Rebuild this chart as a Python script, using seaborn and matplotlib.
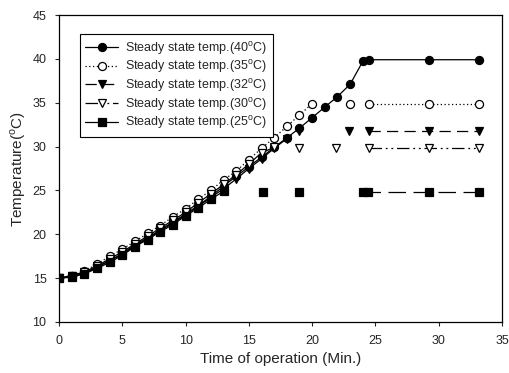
import matplotlib
matplotlib.use("Agg")
import matplotlib.pyplot as plt
from matplotlib.lines import Line2D
import seaborn as sns

# ---- data ----
# 40 C run (all points joined)
t40 = [0, 1, 2, 3, 4, 5, 6, 7, 8, 9, 10, 11, 12, 13, 14, 15, 16, 17, 18, 19, 20, 21, 22, 23, 24, 24.5, 29.2, 33.2]
T40 = [15.0, 15.2, 15.6, 16.3, 17.0, 17.8, 18.8, 19.6, 20.5, 21.4, 22.3, 23.3, 24.3, 25.5, 26.6, 27.7, 28.8, 29.9,
       31.0, 32.1, 33.3, 34.5, 35.7, 37.1, 39.7, 39.9, 39.9, 39.9]

# 35 C run
t35_ramp = [0, 1, 2, 3, 4, 5, 6, 7, 8, 9, 10, 11, 12, 13, 14, 15, 16, 17, 18, 19, 20]
T35_ramp = [15.0, 15.3, 15.8, 16.6, 17.5, 18.3, 19.2, 20.1, 21.0, 22.0, 22.9, 24.0, 25.0, 26.2, 27.2, 28.5,
            29.8, 31.0, 32.3, 33.6, 34.9]
t35_spot = [23.0]
T35_spot = [34.9]
t35_hold = [24.5, 29.2, 33.2]
T35_hold = [34.9, 34.9, 34.9]

# 32 C run
t32_ramp = [0, 1, 2, 3, 4, 5, 6, 7, 8, 9, 10, 11, 12, 13, 14, 15, 16, 17, 18]
T32_ramp = [15.0, 15.2, 15.6, 16.2, 17.0, 17.7, 18.7, 19.5, 20.4, 21.3, 22.2, 23.2, 24.2, 25.2, 26.3, 27.5,
            28.6, 29.8, 30.9]
t32_spot = [19.0, 22.9]
T32_spot = [31.8, 31.8]
t32_hold = [24.5, 29.2, 33.2]
T32_hold = [31.8, 31.8, 31.8]

# 30 C run
t30_ramp = [0, 1, 2, 3, 4, 5, 6, 7, 8, 9, 10, 11, 12, 13, 14, 15, 16, 17]
T30_ramp = [15.0, 15.3, 15.7, 16.4, 17.2, 18.0, 18.9, 19.8, 20.7, 21.6, 22.5, 23.6, 24.6, 25.7, 26.8, 28.0,
            29.3, 29.9]
t30_spot = [19.0, 21.9]
T30_spot = [29.8, 29.8]
t30_hold = [24.5, 29.2, 33.2]
T30_hold = [29.8, 29.8, 29.8]

# 25 C run
t25_ramp = [0, 1, 2, 3, 4, 5, 6, 7, 8, 9, 10, 11, 12, 13]
T25_ramp = [15.0, 15.1, 15.5, 16.1, 16.8, 17.6, 18.6, 19.4, 20.3, 21.1, 22.1, 23.0, 24.0, 24.9]
t25_spot = [16.1, 19.0]
T25_spot = [24.8, 24.8]
t25_hold = [24.0, 24.4, 29.2, 33.2]
T25_hold = [24.8, 24.8, 24.8, 24.8]

labels = ["Steady state temp.(40$^\\mathrm{o}$C)",
          "Steady state temp.(35$^\\mathrm{o}$C)",
          "Steady state temp.(32$^\\mathrm{o}$C)",
          "Steady state temp.(30$^\\mathrm{o}$C)",
          "Steady state temp.(25$^\\mathrm{o}$C)"]

sns.set_style("ticks")
plt.rcParams["font.family"] = ["Liberation Sans", "DejaVu Sans"]
plt.rcParams["mathtext.fontset"] = "custom"
plt.rcParams["mathtext.rm"] = "Liberation Sans"

fig = plt.figure(figsize=(5.1, 3.73), dpi=100)
ax = fig.add_axes([59 / 510, 1 - 322 / 373, 443 / 510, 307 / 373])

lw = 0.9
styles = {
    "40": dict(marker="o", ms=5.8, mfc="k", ls="-"),
    "35": dict(marker="o", ms=5.8, mfc="white", ls=(0, (1, 2))),
    "32": dict(marker="v", ms=5.3, mfc="k", ls=(0, (9, 5))),
    "30": dict(marker="v", ms=5.3, mfc="white", ls=(0, (10, 3, 1.5, 3, 1.5, 3))),
    "25": dict(marker="s", ms=5.5, mfc="k", ls=(0, (14, 6))),
}


def draw(t, T, st, ls=None):
    sns.lineplot(x=t, y=T, ax=ax, color="k", linewidth=lw,
                 linestyle=st["ls"] if ls is None else ls,
                 marker=st["marker"], markersize=st["ms"],
                 markerfacecolor=st["mfc"], markeredgecolor="k",
                 markeredgewidth=0.9, legend=False, errorbar=None)


# 40 C
draw(t40, T40, styles["40"])
# 35 C
draw(t35_ramp, T35_ramp, styles["35"])
draw(t35_spot, T35_spot, styles["35"], ls="none")
draw(t35_hold, T35_hold, styles["35"])
# 32 C
draw(t32_ramp, T32_ramp, styles["32"], ls="-")
draw(t32_spot, T32_spot, styles["32"], ls="none")
draw(t32_hold, T32_hold, styles["32"])
# 30 C
draw(t30_ramp, T30_ramp, styles["30"], ls="-")
draw(t30_spot, T30_spot, styles["30"], ls="none")
draw(t30_hold, T30_hold, styles["30"])
# 25 C
draw(t25_ramp, T25_ramp, styles["25"], ls="-")
draw(t25_spot, T25_spot, styles["25"], ls="none")
draw(t25_hold, T25_hold, styles["25"])

ax.set_xlim(0, 35)
ax.set_ylim(10, 45)
ax.set_xticks(range(0, 36, 5))
ax.set_yticks(range(10, 46, 5))
ax.tick_params(labelsize=9, length=3, width=0.8, direction="out", pad=6)
for sp in ax.spines.values():
    sp.set_visible(True)
    sp.set_linewidth(0.9)
    sp.set_color("k")
ax.set_xlabel("Time of operation (Min.)", fontsize=11, labelpad=4)
ax.set_ylabel("Temperature($^\\mathrm{o}$C)", fontsize=11, labelpad=3)

handles = []
for key in ["40", "35", "32", "30", "25"]:
    st = styles[key]
    hls = "-" if key in ("40", "25") else st["ls"]
    handles.append(Line2D([], [], color="k", lw=lw, ls=hls, marker=st["marker"], ms=st["ms"],
                          mfc=st["mfc"], mec="k", mew=0.9))
leg = ax.legend(handles, labels, loc="upper left", bbox_to_anchor=(0.047, 0.938),
                borderaxespad=0, fontsize=9, frameon=True, fancybox=False,
                edgecolor="k", handlelength=2.6, labelspacing=0.13, borderpad=0.45,
                handletextpad=0.6)
leg.get_frame().set_linewidth(0.8)
leg.get_frame().set_alpha(1)

fig.savefig("out.png", dpi=100)
